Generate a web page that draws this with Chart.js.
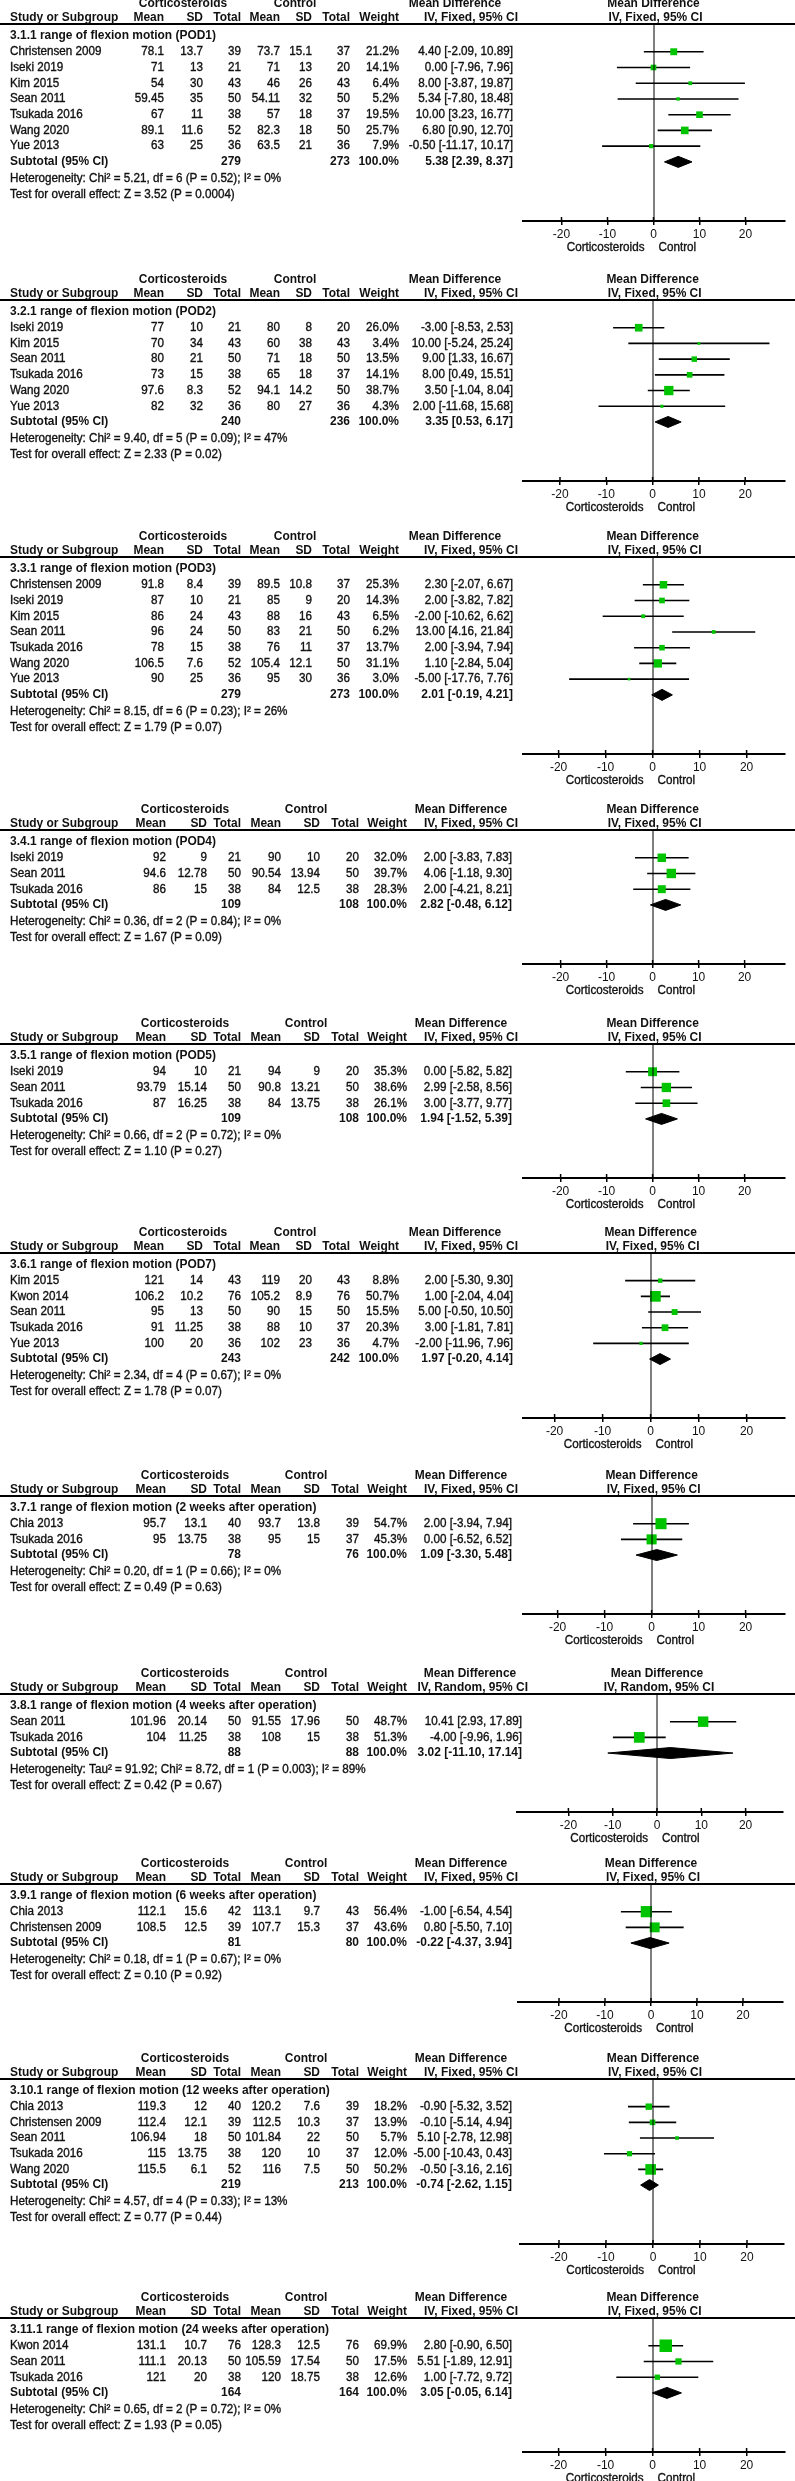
<!DOCTYPE html>
<html>
<head>
<meta charset="utf-8">
<script src="https://cdn.jsdelivr.net/npm/chart.js@4.4.1/dist/chart.umd.min.js"></script>
<style>
  html, body { margin: 0; padding: 0; background: #fff; }
  #page { position: relative; width: 795px; height: 2481px; overflow: hidden; background: #fff; }
  #page canvas { position: absolute; left: 0; }
</style>
</head>
<body>
<div id="page"></div>
<script>
// ---- subgroup data ----
const groupTitles = [
  '3.1.1 range of flexion motion (POD1)',
  '3.2.1 range of flexion motion (POD2)',
  '3.3.1 range of flexion motion (POD3)',
  '3.4.1 range of flexion motion (POD4)',
  '3.5.1 range of flexion motion (POD5)',
  '3.6.1 range of flexion motion (POD7)',
  '3.7.1 range of flexion motion (2 weeks after operation)',
  '3.8.1 range of flexion motion (4 weeks after operation)',
  '3.9.1 range of flexion motion (6 weeks after operation)',
  '3.10.1 range of flexion motion (12 weeks after operation)',
  '3.11.1 range of flexion motion (24 weeks after operation)'
];
const groupMethod = ['Fixed', 'Fixed', 'Fixed', 'Fixed', 'Fixed', 'Fixed', 'Fixed', 'Random', 'Fixed', 'Fixed', 'Fixed'];
const groupTotalCort = [279, 240, 279, 109, 109, 243, 78, 88, 81, 219, 164];
const groupTotalCtrl = [273, 236, 273, 108, 108, 242, 76, 88, 80, 213, 164];
const groupMD = [5.38, 3.35, 2.01, 2.82, 1.94, 1.97, 1.09, 3.02, -0.22, -0.74, 3.05];
const groupLo = [2.39, 0.53, -0.19, -0.48, -1.52, -0.20, -3.30, -11.10, -4.37, -2.62, -0.05];
const groupHi = [8.37, 6.17, 4.21, 6.12, 5.39, 4.14, 5.48, 17.14, 3.94, 1.15, 6.14];
const heterogeneity = [
  'Heterogeneity: Chi² = 5.21, df = 6 (P = 0.52); I² = 0%',
  'Heterogeneity: Chi² = 9.40, df = 5 (P = 0.09); I² = 47%',
  'Heterogeneity: Chi² = 8.15, df = 6 (P = 0.23); I² = 26%',
  'Heterogeneity: Chi² = 0.36, df = 2 (P = 0.84); I² = 0%',
  'Heterogeneity: Chi² = 0.66, df = 2 (P = 0.72); I² = 0%',
  'Heterogeneity: Chi² = 2.34, df = 4 (P = 0.67); I² = 0%',
  'Heterogeneity: Chi² = 0.20, df = 1 (P = 0.66); I² = 0%',
  'Heterogeneity: Tau² = 91.92; Chi² = 8.72, df = 1 (P = 0.003); I² = 89%',
  'Heterogeneity: Chi² = 0.18, df = 1 (P = 0.67); I² = 0%',
  'Heterogeneity: Chi² = 4.57, df = 4 (P = 0.33); I² = 13%',
  'Heterogeneity: Chi² = 0.65, df = 2 (P = 0.72); I² = 0%'
];
const overallEffect = [
  'Test for overall effect: Z = 3.52 (P = 0.0004)',
  'Test for overall effect: Z = 2.33 (P = 0.02)',
  'Test for overall effect: Z = 1.79 (P = 0.07)',
  'Test for overall effect: Z = 1.67 (P = 0.09)',
  'Test for overall effect: Z = 1.10 (P = 0.27)',
  'Test for overall effect: Z = 1.78 (P = 0.07)',
  'Test for overall effect: Z = 0.49 (P = 0.63)',
  'Test for overall effect: Z = 0.42 (P = 0.67)',
  'Test for overall effect: Z = 0.10 (P = 0.92)',
  'Test for overall effect: Z = 0.77 (P = 0.44)',
  'Test for overall effect: Z = 1.93 (P = 0.05)'
];

// ---- study data ----
const studyGroup = [0,0,0,0,0,0,0, 1,1,1,1,1,1, 2,2,2,2,2,2,2, 3,3,3, 4,4,4, 5,5,5,5,5, 6,6, 7,7, 8,8, 9,9,9,9,9, 10,10,10];
const studyName = [
  'Christensen 2009', 'Iseki 2019', 'Kim 2015', 'Sean 2011', 'Tsukada 2016', 'Wang 2020', 'Yue 2013',
  'Iseki 2019', 'Kim 2015', 'Sean 2011', 'Tsukada 2016', 'Wang 2020', 'Yue 2013',
  'Christensen 2009', 'Iseki 2019', 'Kim 2015', 'Sean 2011', 'Tsukada 2016', 'Wang 2020', 'Yue 2013',
  'Iseki 2019', 'Sean 2011', 'Tsukada 2016',
  'Iseki 2019', 'Sean 2011', 'Tsukada 2016',
  'Kim 2015', 'Kwon 2014', 'Sean 2011', 'Tsukada 2016', 'Yue 2013',
  'Chia 2013', 'Tsukada 2016',
  'Sean 2011', 'Tsukada 2016',
  'Chia 2013', 'Christensen 2009',
  'Chia 2013', 'Christensen 2009', 'Sean 2011', 'Tsukada 2016', 'Wang 2020',
  'Kwon 2014', 'Sean 2011', 'Tsukada 2016'
];
const cortMean = [78.1, 71, 54, 59.45, 67, 89.1, 63,  77, 70, 80, 73, 97.6, 82,  91.8, 87, 86, 96, 78, 106.5, 90,
  92, 94.6, 86,  94, 93.79, 87,  121, 106.2, 95, 91, 100,  95.7, 95,  101.96, 104,  112.1, 108.5,
  119.3, 112.4, 106.94, 115, 115.5,  131.1, 111.1, 121];
const cortSD = [13.7, 13, 30, 35, 11, 11.6, 25,  10, 34, 21, 15, 8.3, 32,  8.4, 10, 24, 24, 15, 7.6, 25,
  9, 12.78, 15,  10, 15.14, 16.25,  14, 10.2, 13, 11.25, 20,  13.1, 13.75,  20.14, 11.25,  15.6, 12.5,
  12, 12.1, 18, 13.75, 6.1,  10.7, 20.13, 20];
const cortN = [39, 21, 43, 50, 38, 52, 36,  21, 43, 50, 38, 52, 36,  39, 21, 43, 50, 38, 52, 36,
  21, 50, 38,  21, 50, 38,  43, 76, 50, 38, 36,  40, 38,  50, 38,  42, 39,  40, 39, 50, 38, 52,  76, 50, 38];
const ctrlMean = [73.7, 71, 46, 54.11, 57, 82.3, 63.5,  80, 60, 71, 65, 94.1, 80,  89.5, 85, 88, 83, 76, 105.4, 95,
  90, 90.54, 84,  94, 90.8, 84,  119, 105.2, 90, 88, 102,  93.7, 95,  91.55, 108,  113.1, 107.7,
  120.2, 112.5, 101.84, 120, 116,  128.3, 105.59, 120];
const ctrlSD = [15.1, 13, 26, 32, 18, 18, 21,  8, 38, 18, 18, 14.2, 27,  10.8, 9, 16, 21, 11, 12.1, 30,
  10, 13.94, 12.5,  9, 13.21, 13.75,  20, 8.9, 15, 10, 23,  13.8, 15,  17.96, 15,  9.7, 15.3,
  7.6, 10.3, 22, 10, 7.5,  12.5, 17.54, 18.75];
const ctrlN = [37, 20, 43, 50, 37, 50, 36,  20, 43, 50, 37, 50, 36,  37, 20, 43, 50, 37, 50, 36,
  20, 50, 38,  20, 50, 38,  43, 76, 50, 37, 36,  39, 37,  50, 38,  43, 37,  39, 37, 50, 37, 50,  76, 50, 38];
const weight = [21.2, 14.1, 6.4, 5.2, 19.5, 25.7, 7.9,  26.0, 3.4, 13.5, 14.1, 38.7, 4.3,  25.3, 14.3, 6.5, 6.2, 13.7, 31.1, 3.0,
  32.0, 39.7, 28.3,  35.3, 38.6, 26.1,  8.8, 50.7, 15.5, 20.3, 4.7,  54.7, 45.3,  48.7, 51.3,  56.4, 43.6,
  18.2, 13.9, 5.7, 12.0, 50.2,  69.9, 17.5, 12.6];
const md = [4.40, 0.00, 8.00, 5.34, 10.00, 6.80, -0.50,  -3.00, 10.00, 9.00, 8.00, 3.50, 2.00,
  2.30, 2.00, -2.00, 13.00, 2.00, 1.10, -5.00,  2.00, 4.06, 2.00,  0.00, 2.99, 3.00,
  2.00, 1.00, 5.00, 3.00, -2.00,  2.00, 0.00,  10.41, -4.00,  -1.00, 0.80,
  -0.90, -0.10, 5.10, -5.00, -0.50,  2.80, 5.51, 1.00];
const ciLo = [-2.09, -7.96, -3.87, -7.80, 3.23, 0.90, -11.17,  -8.53, -5.24, 1.33, 0.49, -1.04, -11.68,
  -2.07, -3.82, -10.62, 4.16, -3.94, -2.84, -17.76,  -3.83, -1.18, -4.21,  -5.82, -2.58, -3.77,
  -5.30, -2.04, -0.50, -1.81, -11.96,  -3.94, -6.52,  2.93, -9.96,  -6.54, -5.50,
  -5.32, -5.14, -2.78, -10.43, -3.16,  -0.90, -1.89, -7.72];
const ciHi = [10.89, 7.96, 19.87, 18.48, 16.77, 12.70, 10.17,  2.53, 25.24, 16.67, 15.51, 8.04, 15.68,
  6.67, 7.82, 6.62, 21.84, 7.94, 5.04, 7.76,  7.83, 9.30, 8.21,  5.82, 8.56, 9.77,
  9.30, 4.04, 10.50, 7.81, 7.96,  7.94, 6.52,  17.89, 1.96,  4.54, 7.10,
  3.52, 4.94, 12.98, 0.43, 2.16,  6.50, 12.91, 9.72];

const xTickValues = [-20, -10, 0, 10, 20];

// ---- layout ----
const FONT = 'Arial, "Liberation Sans", sans-serif';
const TXT = '#111';
const GREEN = '#00c400';
const ROW = 15.7;
const sectionTop = [24, 300, 557, 830, 1044, 1253, 1496, 1694, 1884, 2079, 2318];
// plot strip per section: pixel of zero, pixels per unit, left/right ends of axis
const axisZero = [653.5, 652.6, 652.6, 652.6, 652.6, 650.6, 651.6, 657, 651, 653, 652.6];
const axisPxPerUnit = [4.6, 4.63, 4.7, 4.6, 4.6, 4.8, 4.7, 4.43, 4.6, 4.7, 4.7];
const axisLeft = [523, 523, 523, 523, 523, 523, 523, 517, 518, 520, 523];
const axisRight = [785, 785, 785, 785, 785, 785, 785, 783, 783, 784, 785];
const colsA = { meanC: 164, sdC: 203, totC: 241, meanK: 280, sdK: 312, totK: 350, wt: 399, ci: 513, ciHead: 518, cortC: 183, ctrlC: 295, mdC: 455 };
const colsB = { meanC: 166, sdC: 207, totC: 241, meanK: 281, sdK: 320, totK: 359, wt: 407, ci: 512, ciHead: 518, cortC: 185, ctrlC: 306, mdC: 461 };
const colsR = Object.assign({}, colsB, { ci: 522, ciHead: 528, mdC: 470 });
const sectionCols = [colsA, colsA, colsA, colsB, colsB, colsA, colsB, colsR, colsB, colsB, colsB];

const page = document.getElementById('page');

// fit text widths to the reference
const probe = document.createElement('canvas').getContext('2d');
probe.font = '12px ' + FONT;
const SX = 271 / probe.measureText(heterogeneity[0]).width;
probe.font = 'bold 12px ' + FONT;
const SXB = 206 / probe.measureText(groupTitles[0]).width;

function txt(ctx, s, x, y, align, bold) {
  ctx.save();
  ctx.font = (bold ? 'bold ' : '') + '12px ' + FONT;
  ctx.textAlign = align;
  ctx.textBaseline = 'middle';
  ctx.translate(x, y);
  ctx.scale(bold ? SXB : SX, 1);
  ctx.fillText(s, 0, 0);
  if (!bold) {
    ctx.lineWidth = 0.35;
    ctx.strokeStyle = TXT;
    ctx.strokeText(s, 0, 0);
  }
  ctx.restore();
}
const ci = (m, l, h) => m.toFixed(2) + ' [' + l.toFixed(2) + ', ' + h.toFixed(2) + ']';

function buildSection(g) {
  const idx = studyGroup.map((v, i) => (v === g ? i : -1)).filter(i => i >= 0);
  const n = idx.length;
  const cols = sectionCols[g];
  const span = 12 + ROW * (n + 1) + 59;
  const padTop = 32, axisH = 44;
  const H = Math.round(padTop + span + axisH);
  const xMin = (axisLeft[g] - axisZero[g]) / axisPxPerUnit[g];
  const xMax = (axisRight[g] - axisZero[g]) / axisPxPerUnit[g];

  const canvas = document.createElement('canvas');
  canvas.width = 795; canvas.height = H;
  canvas.style.width = '795px'; canvas.style.height = H + 'px';
  canvas.style.top = (sectionTop[g] - padTop) + 'px';
  page.appendChild(canvas);

  const lineData = [];
  idx.forEach((i, k) => {
    lineData.push({ x: ciLo[i], y: k + 1 }, { x: ciHi[i], y: k + 1 }, { x: null, y: null });
  });
  const sqData = idx.map((i, k) => ({ x: md[i], y: k + 1 }));
  const sqRadius = idx.map(i => 1.06 * Math.sqrt(weight[i]));
  const s = n + 1, h = 5.5 / ROW;
  const dia = [
    { x: groupLo[g], y: s }, { x: groupMD[g], y: s - h },
    { x: groupHi[g], y: s }, { x: groupMD[g], y: s + h }, { x: groupLo[g], y: s }
  ];
  const method = 'IV, ' + groupMethod[g] + ', 95% CI';

  new Chart(canvas, {
    type: 'scatter',
    data: {
      datasets: [
        { data: sqData, pointStyle: 'rect', pointRadius: sqRadius, backgroundColor: GREEN, borderWidth: 0, order: 0 },
        { data: dia, showLine: true, fill: 'shape', backgroundColor: '#000', borderColor: '#000', borderWidth: 1, pointRadius: 0, order: 1 },
        { data: lineData, showLine: true, spanGaps: false, borderColor: '#000', borderWidth: 1.6, pointRadius: 0, order: 2 }
      ]
    },
    options: {
      responsive: false,
      animation: false,
      events: [],
      layout: { padding: { left: axisLeft[g], right: 795 - axisRight[g], top: padTop, bottom: 0 } },
      plugins: { legend: { display: false }, tooltip: { enabled: false } },
      scales: {
        x: {
          type: 'linear', position: 'bottom', min: xMin, max: xMax,
          afterBuildTicks: sc => { sc.ticks = xTickValues.map(v => ({ value: v })); },
          afterFit: sc => { sc.height = axisH; },
          border: { display: true, color: '#000', width: 2 },
          grid: { display: true, drawOnChartArea: false, drawTicks: true, tickLength: 4, color: '#000', lineWidth: 1.5 },
          ticks: { color: TXT, padding: 2, font: { family: FONT, size: 12 } }
        },
        y: { type: 'linear', display: false, reverse: true, min: -12 / ROW, max: n + 1 + 59 / ROW }
      }
    },
    plugins: [{
      id: 'forestTable',
      afterDraw(chart) {
        const ctx = chart.ctx, ca = chart.chartArea;
        const xs = chart.scales.x, ys = chart.scales.y;
        const x0 = xs.getPixelForValue(0);
        ctx.save();
        ctx.fillStyle = '#000';
        ctx.fillRect(0, ca.top - 1, 795, 2);
        ctx.fillRect(Math.round(x0) - 0.5, ca.top, 1, ca.bottom - ca.top);
        xTickValues.forEach(v => {
          const px = xs.getPixelForValue(v);
          ctx.fillRect(px - 0.75, ca.bottom - 4, 1.5, 4);
        });
        ctx.fillStyle = TXT;
        // headers
        const h1 = ca.top - 20, h2 = ca.top - 6;
        txt(ctx, 'Corticosteroids', cols.cortC, h1, 'center', true);
        txt(ctx, 'Control', cols.ctrlC, h1, 'center', true);
        txt(ctx, 'Mean Difference', cols.mdC, h1, 'center', true);
        txt(ctx, 'Mean Difference', x0, h1, 'center', true);
        txt(ctx, 'Study or Subgroup', 10, h2, 'left', true);
        txt(ctx, 'Mean', cols.meanC, h2, 'right', true);
        txt(ctx, 'SD', cols.sdC, h2, 'right', true);
        txt(ctx, 'Total', cols.totC, h2, 'right', true);
        txt(ctx, 'Mean', cols.meanK, h2, 'right', true);
        txt(ctx, 'SD', cols.sdK, h2, 'right', true);
        txt(ctx, 'Total', cols.totK, h2, 'right', true);
        txt(ctx, 'Weight', cols.wt, h2, 'right', true);
        txt(ctx, method, cols.ciHead, h2, 'right', true);
        txt(ctx, method, x0 + 2, h2, 'center', true);
        // subgroup title
        txt(ctx, groupTitles[g], 10, ys.getPixelForValue(0), 'left', true);
        // studies
        idx.forEach((i, k) => {
          const y = ys.getPixelForValue(k + 1);
          txt(ctx, studyName[i], 10, y, 'left', false);
          txt(ctx, String(cortMean[i]), cols.meanC, y, 'right', false);
          txt(ctx, String(cortSD[i]), cols.sdC, y, 'right', false);
          txt(ctx, String(cortN[i]), cols.totC, y, 'right', false);
          txt(ctx, String(ctrlMean[i]), cols.meanK, y, 'right', false);
          txt(ctx, String(ctrlSD[i]), cols.sdK, y, 'right', false);
          txt(ctx, String(ctrlN[i]), cols.totK, y, 'right', false);
          txt(ctx, weight[i].toFixed(1) + '%', cols.wt, y, 'right', false);
          txt(ctx, ci(md[i], ciLo[i], ciHi[i]), cols.ci, y, 'right', false);
        });
        // subtotal
        const ys1 = ys.getPixelForValue(n + 1);
        txt(ctx, 'Subtotal (95% CI)', 10, ys1, 'left', true);
        txt(ctx, String(groupTotalCort[g]), cols.totC, ys1, 'right', true);
        txt(ctx, String(groupTotalCtrl[g]), cols.totK, ys1, 'right', true);
        txt(ctx, '100.0%', cols.wt, ys1, 'right', true);
        txt(ctx, ci(groupMD[g], groupLo[g], groupHi[g]), cols.ci, ys1, 'right', true);
        txt(ctx, heterogeneity[g], 10, ys.getPixelForValue(n + 1 + 17 / ROW), 'left', false);
        txt(ctx, overallEffect[g], 10, ys.getPixelForValue(n + 1 + 33 / ROW), 'left', false);
        // favours labels
        txt(ctx, 'Corticosteroids', x0 - 9, ca.bottom + 27, 'right', false);
        txt(ctx, 'Control', x0 + 5, ca.bottom + 27, 'left', false);
        ctx.restore();
      }
    }]
  });
}

groupTitles.forEach((t, g) => buildSection(g));
</script>
</body>
</html>
